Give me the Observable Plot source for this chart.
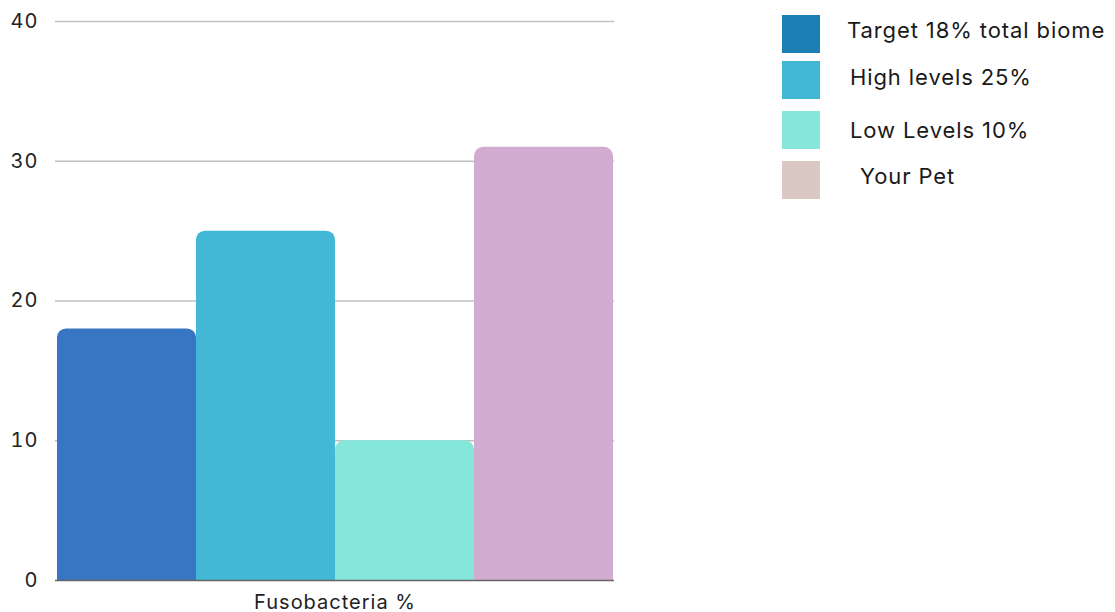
<!DOCTYPE html>
<html><head><meta charset="utf-8">
<script src="https://cdn.jsdelivr.net/npm/d3@7"></script>
<script src="https://cdn.jsdelivr.net/npm/@observablehq/plot@0.6"></script>
<style>
body{margin:0;background:#fff;font-family:Inter,"Noto Sans",sans-serif;}
#wrap{position:relative;width:1115px;height:612px;}
.lg{position:absolute;left:782px;width:38px;height:38px;}
.lt{position:absolute;font-size:22px;letter-spacing:0.9px;color:#1a1a1a;line-height:1;white-space:nowrap;}
svg [aria-label="x-axis label"] text{letter-spacing:1px;}
svg [aria-label="y-axis tick label"] text{letter-spacing:1px;}
</style></head><body>
<div id="wrap"></div>
<script>
const categories = ["Target 18% total biome", "High levels 25%", "Low Levels 10%", "Your Pet"];
const values = [18, 25, 10, 31];
const barColors = ["#3876c4", "#42b7d6", "#85e6da", "#d1acd0"];
const legendColors = ["#1c7fb4", "#42b7d6", "#85e6da", "#dac8c5"];
const yTicks = [0, 10, 20, 30, 40];
const groupLabel = "Fusobacteria %";

const data = categories.map((c, i) => ({cat: c, value: values[i]}));

const chart = Plot.plot({
  width: 1115, height: 612,
  marginLeft: 55, marginRight: 501, marginTop: 21, marginBottom: 32,
  style: {fontFamily: "Inter, 'Noto Sans', sans-serif", fontSize: "20px", color: "#222", background: "#fff"},
  x: {domain: categories, padding: 0, tickSize: 0, tickFormat: () => "", label: groupLabel, labelAnchor: "center", labelArrow: "none", labelOffset: 28},
  y: {domain: [0, 40], ticks: yTicks, tickSize: 0, tickPadding: 17, label: null},
  color: {domain: categories, range: barColors},
  marks: [
    Plot.ruleY(yTicks.filter(t => t > 0), {stroke: "#c0c0c0", strokeWidth: 1.5}),
    Plot.barY(data, {x: "cat", y: "value", fill: "cat", rx: 9}),
    Plot.barY(data, {x: "cat", y1: 0, y2: d => d.value / 2, fill: "cat"}),
    Plot.ruleY([0], {stroke: "#666", strokeWidth: 1.5})
  ]
});
const wrap = document.getElementById("wrap");
wrap.appendChild(chart);

const sqTops = [15, 61, 111, 161];
const txtLeft = [847, 850, 850, 860];
const txtCenter = [31, 78, 131, 177];
categories.forEach((c, i) => {
  const s = document.createElement("div");
  s.className = "lg"; s.style.top = sqTops[i] + "px"; s.style.background = legendColors[i];
  wrap.appendChild(s);
  const t = document.createElement("div");
  t.className = "lt"; t.textContent = c;
  t.style.left = txtLeft[i] + "px"; t.style.top = (txtCenter[i] - 12) + "px";
  wrap.appendChild(t);
});
</script>
</body></html>
